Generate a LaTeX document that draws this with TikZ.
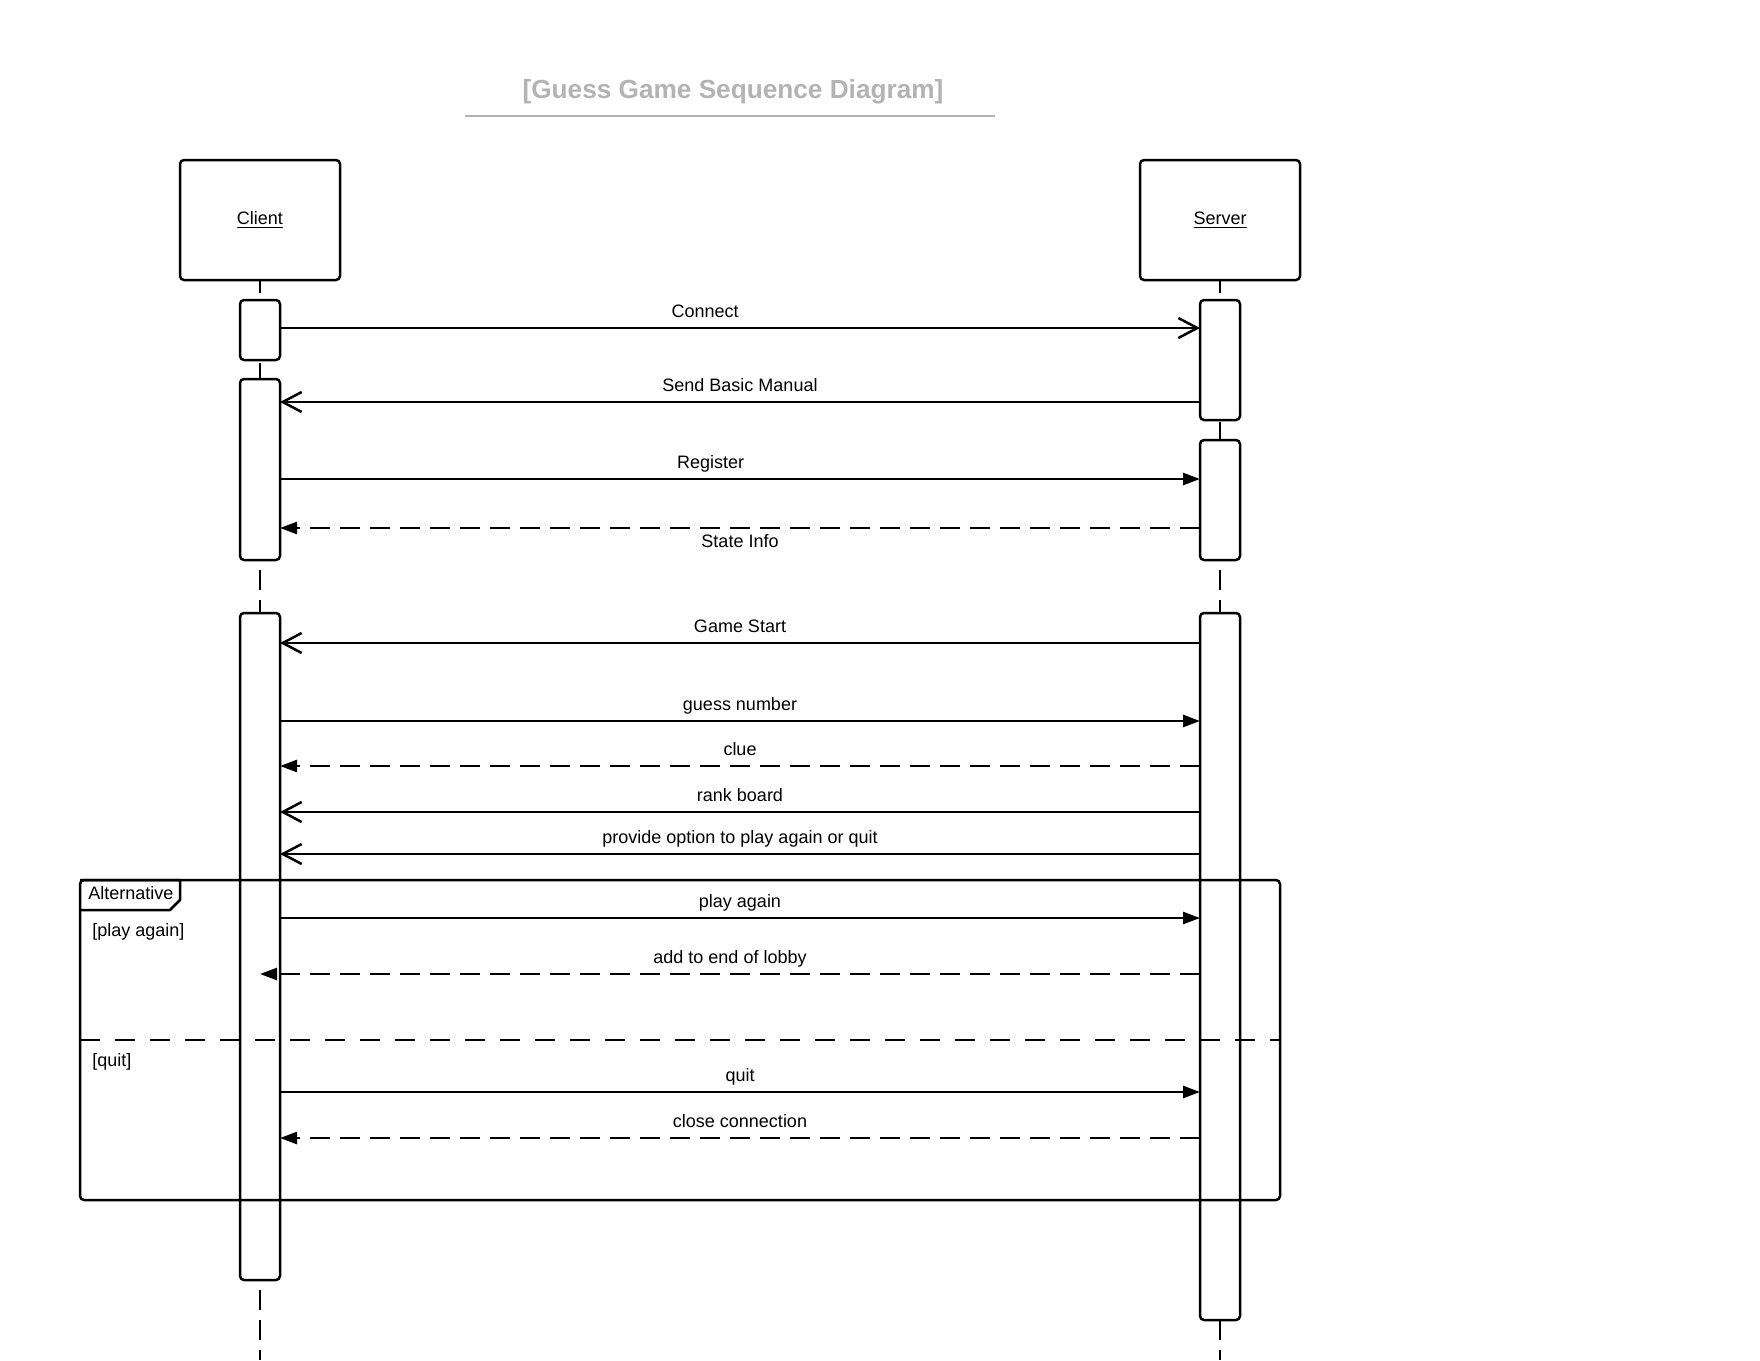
\documentclass[tikz,border=0pt]{standalone}
\usepackage{fontspec}
\setmainfont{Liberation Sans}
\usetikzlibrary{arrows.meta,positioning,backgrounds,calc}
\definecolor{titleColor}{HTML}{B3B3B3}
\newcommand{\lblsize}{\fontsize{9}{11}\selectfont}
\newcommand{\ttlsize}{\fontsize{13.1}{15}\selectfont\bfseries}
\tikzset{
	obj/.style={draw, rounded corners=2pt, minimum width=80pt, minimum height=60pt, font=\lblsize},
	act/.style={draw, fill=white, rounded corners=2pt, minimum width=20pt, inner sep=0, outer sep=0},
	life/.style={dash pattern=on 10pt off 5pt},
	call/.style={-{Straight Barb[length=9.5pt,width=10pt]}},
	sync/.style={-{Triangle[length=8.5pt,width=6pt]}},
	ret/.style={sync, dash pattern=on 10pt off 5pt},
	msg/.style={anchor=base, inner sep=0, yshift=5.25pt, font=\lblsize},
	msgb/.style={anchor=base, inner sep=0, yshift=-9.5pt, font=\lblsize},
	guard/.style={anchor=base west, inner sep=0, font=\lblsize},
	altbox/.style={draw, rounded corners=2pt, minimum width=600pt, minimum height=160pt, inner sep=0, outer sep=0}
}

\begin{document}
\begin{tikzpicture}[x=0.5pt, y=-0.5pt, line width=1.25pt, line join=round]
	\useasboundingbox (0,0) rectangle (1760,1360);
	\node[font=\ttlsize, text=titleColor, inner sep=0] (title) at (733,92) {[Guess Game Sequence Diagram]};
	\coordinate (ruleL) at (465,116);
	\coordinate (ruleR) at (995,116);
	\draw[titleColor] (ruleL) -- (ruleR);
	% participants
	\node[obj] (client) at (260,220) {\underline{Client}};
	\node[obj] (server) at (1220,220) {\underline{Server}};
	% activations
	\node[act, minimum height=30pt] (ca1) at (260,330) {};
	\node[act, minimum height=90.5pt] (ca2) at (260,469.5) {};
	\node[act, minimum height=333.5pt] (ca3) at (260,946.5) {};
	\node[act, minimum height=60pt] (sa1) at (1220,360) {};
	\node[act, minimum height=60pt] (sa2) at (1220,500) {};
	\node[act, minimum height=353.5pt] (sa3) at (1220,966.5) {};
	\coordinate (clientEnd) at (260,1360);
	\coordinate (serverEnd) at (1220,1360);
	\begin{scope}[on background layer={line width=1.25pt}]
		\draw (client.south) -- ++(0,12);
		\draw (ca1.south) ++(0,3) -- (ca2.north);
		\draw[life, dash phase=10pt] (ca2.south) -- (ca3.north);
		\draw[life, dash phase=10pt] (ca3.south) -- (clientEnd);
		\draw (server.south) -- ++(0,12);
		\draw (sa1.south) ++(0,2) -- (sa2.north);
		\draw[life, dash phase=10pt] (sa2.south) -- (sa3.north);
		\draw[life] (sa3.south) -- (serverEnd);
	\end{scope}
	% messages
	\path (ca1.east |- 0,328) edge[call] node[msg, pos=.462] (m1) {Connect} (sa1.west |- 0,328);
	\path (sa1.west |- 0,402) edge[call] node[msg] (m2) {Send Basic Manual} (ca2.east |- 0,402);
	\path (ca2.east |- 0,479) edge[sync] node[msg, pos=.468] (m3) {Register} (sa2.west |- 0,479);
	\path (sa2.west |- 0,528) edge[ret] node[msgb] (m4) {State Info} (ca2.east |- 0,528);
	\path (sa3.west |- 0,643) edge[call] node[msg] (m5) {Game Start} (ca3.east |- 0,643);
	\path (ca3.east |- 0,721) edge[sync] node[msg] (m6) {guess number} (sa3.west |- 0,721);
	\path (sa3.west |- 0,766) edge[ret] node[msg] (m7) {clue} (ca3.east |- 0,766);
	\path (sa3.west |- 0,812) edge[call] node[msg] (m8) {rank board} (ca3.east |- 0,812);
	\path (sa3.west |- 0,854) edge[call] node[msg] (m9) {provide option to play again or quit} (ca3.east |- 0,854);
	\path (ca3.east |- 0,918) edge[sync] node[msg] (m10) {play again} (sa3.west |- 0,918);
	\path (sa3.west |- 0,974) edge[ret] node[msg] (m11) {add to end of lobby} (ca3.center |- 0,974);
	\path (ca3.east |- 0,1092) edge[sync] node[msg] (m12) {quit} (sa3.west |- 0,1092);
	\path (sa3.west |- 0,1138) edge[ret] node[msg] (m13) {close connection} (ca3.east |- 0,1138);
	% alternative fragment
	\node[altbox] (alt) at (680,1040) {};
	\draw (alt.north west) -- ++(100,0) -- ++(0,20) -- ++(-10,10) -- ++(-90,0);
	\node[guard] (altLbl) at (87,899) {Alternative};
	\node[guard] (g1) at (91,936) {[play again]};
	\node[guard] (g2) at (91,1066) {[quit]};
	\draw[dash pattern=on 10pt off 7.5pt] (alt.west) -- (alt.east);
\end{tikzpicture}
\end{document}
